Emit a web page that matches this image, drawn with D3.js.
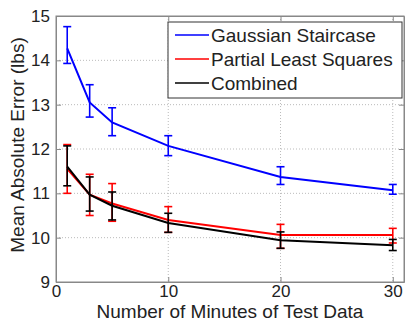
<!DOCTYPE html>
<html lang="en">
<head>
  <meta charset="UTF-8">
  <title>Mean Absolute Error vs Minutes of Test Data</title>
  <style>
    body { margin: 0; background: #fff; }
    svg { display: block; font-family: "Liberation Sans", Arial, sans-serif; }
  </style>
</head>
<body>
  <div id="chart"></div>
  <script src="https://d3js.org/d3.v7.min.js"></script>
  <script>
    // minutes of test data
    const minutes = [1, 3, 5, 10, 20, 30];

    const gaussMean = [14.27, 13.05, 12.6, 12.07, 11.37, 11.07];
    const gaussLow  = [13.93, 12.72, 12.3, 11.85, 11.2, 10.98];
    const gaussHigh = [14.76, 13.45, 12.93, 12.3, 11.6, 11.2];

    const plsMean = [11.55, 10.97, 10.77, 10.4, 10.06, 10.06];
    const plsLow  = [11.0, 10.5, 10.37, 10.12, 9.76, 9.88];
    const plsHigh = [12.1, 11.43, 11.22, 10.7, 10.3, 10.21];

    const combMean = [11.6, 10.97, 10.72, 10.33, 9.94, 9.83];
    const combLow  = [11.17, 10.6, 10.4, 10.12, 9.76, 9.71];
    const combHigh = [12.07, 11.37, 11.03, 10.55, 10.13, 9.96];

    const seriesNames = ['Gaussian Staircase', 'Partial Least Squares', 'Combined'];
    const xTicks = [0, 10, 20, 30];
    const yTicks = [9, 10, 11, 12, 13, 14, 15];

    const width = 406, height = 322;
    const margin = { top: 16, right: 2, bottom: 40, left: 56 };
    const w = width - margin.left - margin.right;
    const h = height - margin.top - margin.bottom;

    const svg = d3.select('#chart').append('svg')
      .attr('width', width)
      .attr('height', height);

    const g = svg.append('g')
      .attr('transform', `translate(${margin.left}, ${margin.top})`);

    const x = d3.scaleLinear().domain([0, 31]).range([0, w]);
    const y = d3.scaleLinear().domain([9, 15]).range([h, 0]);

    // dotted grid
    g.selectAll('.vgrid')
      .data(xTicks.slice(1))
      .enter().append('line')
      .attr('x1', d => x(d)).attr('x2', d => x(d))
      .attr('y1', 0).attr('y2', h)
      .attr('stroke', '#bbb')
      .attr('stroke-dasharray', '1,2');

    g.selectAll('.hgrid')
      .data(yTicks.slice(1, -1))
      .enter().append('line')
      .attr('x1', 0).attr('x2', w)
      .attr('y1', d => y(d)).attr('y2', d => y(d))
      .attr('stroke', '#bbb')
      .attr('stroke-dasharray', '1,2');

    // axes (ticks pointing inward)
    g.append('g')
      .attr('transform', `translate(0, ${h})`)
      .call(d3.axisBottom(x).tickValues(xTicks).tickFormat(d3.format('d'))
        .tickSizeInner(-5).tickSizeOuter(0).tickPadding(3));
    g.append('g')
      .call(d3.axisLeft(y).tickValues(yTicks).tickFormat(d3.format('d'))
        .tickSizeInner(-5).tickSizeOuter(0).tickPadding(6));
    g.append('g')
      .call(d3.axisTop(x).tickValues(xTicks).tickSizeInner(-5).tickSizeOuter(0).tickFormat(''));
    g.append('g')
      .attr('transform', `translate(${w}, 0)`)
      .call(d3.axisRight(y).tickValues(yTicks).tickSizeInner(-5).tickSizeOuter(0).tickFormat(''));

    g.selectAll('.domain, .tick line').attr('stroke', '#888');
    g.selectAll('.tick text')
      .attr('fill', '#222')
      .style('font-size', '17px');

    // outer box
    g.append('rect')
      .attr('width', w).attr('height', h)
      .attr('fill', 'none')
      .attr('stroke', '#888');

    const series = [
      { name: seriesNames[0], color: '#0000ff', mean: gaussMean, lo: gaussLow, hi: gaussHigh },
      { name: seriesNames[1], color: '#ff0000', mean: plsMean, lo: plsLow, hi: plsHigh },
      { name: seriesNames[2], color: '#000000', mean: combMean, lo: combLow, hi: combHigh }
    ];

    const line = d3.line()
      .x(d => x(d[0]))
      .y(d => y(d[1]));

    const cap = 4;
    series.forEach(s => {
      const pts = minutes.map((m, i) => ({ m: m, v: s.mean[i], lo: s.lo[i], hi: s.hi[i] }));
      const eb = g.append('g').attr('stroke', s.color).attr('stroke-width', 1.6);
      pts.forEach(p => {
        eb.append('line')
          .attr('x1', x(p.m)).attr('x2', x(p.m))
          .attr('y1', y(p.lo)).attr('y2', y(p.hi));
        eb.append('line')
          .attr('x1', x(p.m) - cap).attr('x2', x(p.m) + cap)
          .attr('y1', y(p.lo)).attr('y2', y(p.lo));
        eb.append('line')
          .attr('x1', x(p.m) - cap).attr('x2', x(p.m) + cap)
          .attr('y1', y(p.hi)).attr('y2', y(p.hi));
      });
      g.append('path')
        .datum(pts.map(p => [p.m, p.v]))
        .attr('d', line)
        .attr('fill', 'none')
        .attr('stroke', s.color)
        .attr('stroke-width', 2);
    });

    // legend
    const legend = svg.append('g');
    legend.append('rect')
      .attr('x', 168).attr('y', 22)
      .attr('width', 234).attr('height', 76)
      .attr('fill', '#fff')
      .attr('stroke', '#333');
    series.forEach((s, i) => {
      const ly = 35 + i * 24;
      legend.append('line')
        .attr('x1', 175).attr('x2', 209)
        .attr('y1', ly).attr('y2', ly)
        .attr('stroke', s.color)
        .attr('stroke-width', 1.5);
      legend.append('text')
        .attr('x', 211).attr('y', ly)
        .attr('dy', '0.35em')
        .attr('fill', '#222')
        .style('font-size', '19px')
        .text(s.name);
    });

    // axis labels
    svg.append('text')
      .attr('x', margin.left + w / 2)
      .attr('y', 318)
      .attr('text-anchor', 'middle')
      .attr('fill', '#222')
      .style('font-size', '19px')
      .text('Number of Minutes of Test Data');

    svg.append('text')
      .attr('transform', 'rotate(-90)')
      .attr('x', -145)
      .attr('y', 24)
      .attr('text-anchor', 'middle')
      .attr('fill', '#222')
      .style('font-size', '19px')
      .text('Mean Absolute Error (lbs)');
  </script>
</body>
</html>
